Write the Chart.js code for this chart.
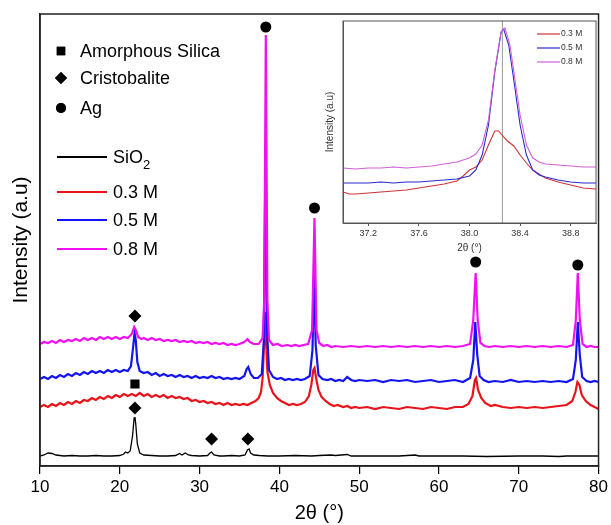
<!DOCTYPE html>
<html>
<head>
<meta charset="utf-8">
<script src="https://cdn.jsdelivr.net/npm/chart.js@4.4.1/dist/chart.umd.min.js"></script>
<style>
  html, body { margin: 0; padding: 0; background: #fff; }
  #wrap { position: relative; width: 611px; height: 525px; }
  #main { position: absolute; left: 0; top: 0; }
  #inset { position: absolute; left: 318px; top: 18px; }
</style>
</head>
<body>
<div id="wrap">
  <canvas id="main" width="611" height="525"></canvas>
  <canvas id="inset" width="280" height="242"></canvas>
</div>
<script>
// ---- data (2theta, intensity a.u.) ----
var sio2 = [[10,10],[10.5,11],[11,13],[11.5,12.5],[12,11],[13,10],[14,10.5],[15,10],[16,10],[17,10.5],[18,10],[19,10],[20,10.5],[20.5,12],[20.7,14],[21,13],[21.3,15],[21.6,30],[21.8,48],[21.9,49],[22,42],[22.2,22],[22.5,13],[23,11],[24,10.5],[25,10],[26,10],[27,10.5],[27.5,12.5],[27.8,11],[28.2,13],[28.6,11],[29,10.5],[30,10],[31,10.5],[31.3,13],[31.5,14],[31.8,11],[32.5,10],[33,10],[34,10.5],[35,10],[35.7,11],[36,16],[36.2,17],[36.4,13],[36.8,11],[37.5,10.5],[38.5,10],[40,10],[42,10.5],[44,10],[45,10.5],[46.5,11],[47,10.5],[48.5,11.5],[49,10],[52,10],[55,10],[57,11],[57.5,10],[60,10],[63,10],[66,9.5],[70,10],[73,10],[75,9.5],[76,10],[78,10],[80,10]];

var m03 = [[10,59],[10.5,61],[11,59],[11.5,62],[12,60],[12.5,63],[13,61],[13.5,64],[14,62],[14.5,65],[15,63],[15.5,66],[16,65],[16.5,68],[17,66],[17.5,69],[18,67],[18.5,70],[19,68],[19.5,71],[20,69],[20.5,72],[21,70],[21.5,72],[22,70],[22.5,73],[23,70],[23.5,72],[24,69],[24.5,71],[25,69],[25.5,71],[26,68],[26.5,70],[27,68],[27.5,69],[28,67],[28.5,68],[29,65],[29.5,66],[30,64],[30.5,65],[31,63],[31.5,64],[32,62],[32.5,63],[33,61],[33.5,63],[34,61],[34.5,62],[35,61],[35.5,62],[36,61],[36.5,63],[37,65],[37.4,68],[37.7,74],[37.9,88],[38.05,116],[38.2,154],[38.35,121],[38.5,94],[38.8,81],[39.2,73],[39.7,68],[40.2,65],[40.7,63],[41.2,61],[41.7,62],[42.2,61],[42.7,62],[43.2,64],[43.7,70],[44,81],[44.25,96],[44.4,98],[44.6,88],[44.9,76],[45.3,69],[45.8,65],[46.3,62],[46.8,60],[47.3,61],[48,59],[48.5,60],[49,58],[49.5,59],[50,58],[51,59],[52,57],[53,59],[54,58],[55,57],[56,59],[57,58],[58,57],[59,59],[60,58],[61,57],[62,59],[63,59],[63.7,62],[64.2,70],[64.5,86],[64.65,88],[64.9,76],[65.3,68],[65.8,63],[66.5,60],[67,61],[68,59],[69,58],[70,59],[71,58],[72,59],[73,58],[74,59],[75,60],[76,61],[76.7,65],[77.1,74],[77.35,84],[77.6,81],[77.9,71],[78.4,65],[79,61],[79.5,59],[80,57]];

var m05 = [[10,87],[10.5,89],[11,87],[11.5,90],[12,88],[12.5,91],[13,89],[13.5,92],[14,90],[14.5,93],[15,91],[15.5,94],[16,92],[16.5,95],[17,93],[17.5,95],[18,93],[18.5,96],[19,94],[19.5,96],[20,94],[20.5,96],[21,95],[21.4,100],[21.7,121],[21.85,133],[22,126],[22.2,104],[22.5,95],[23,93],[23.5,94],[24,91],[24.5,93],[25,90],[25.5,92],[26,90],[26.5,91],[27,89],[27.5,91],[28,89],[28.5,90],[29,88],[29.5,90],[30,88],[30.5,89],[31,88],[31.5,90],[32,88],[32.5,89],[33,87],[33.5,88],[34,87],[34.5,88],[35,87],[35.6,90],[35.9,97],[36.1,99],[36.4,92],[36.8,88],[37.3,88],[37.8,92],[38.05,126],[38.25,303],[38.45,136],[38.7,96],[39.2,89],[39.7,87],[40.2,88],[40.7,86],[41.2,87],[41.7,86],[42.2,87],[42.7,86],[43.2,87],[43.8,90],[44.15,116],[44.35,194],[44.55,121],[44.9,91],[45.4,87],[46,86],[46.5,87],[47,85],[47.5,86],[48,85],[48.5,89],[49,86],[49.5,85],[50,86],[51,85],[52,86],[53,84],[54,86],[55,85],[56,86],[57,84],[58,85],[59,86],[60,84],[61,85],[62,86],[63,84],[63.9,88],[64.3,106],[64.55,144],[64.8,111],[65.1,90],[65.6,86],[66.2,84],[67,85],[68,84],[69,86],[70,84],[71,85],[72,84],[73,85],[74,84],[75,85],[76,84],[76.8,87],[77.15,106],[77.4,144],[77.65,111],[77.95,89],[78.5,85],[79,84],[79.5,85],[80,84]];

var m08 = [[10,122],[10.5,124],[11,123],[11.5,125],[12,123],[12.5,126],[13,124],[13.5,126],[14,125],[14.5,127],[15,125],[15.5,128],[16,126],[16.5,128],[17,126],[17.5,129],[18,127],[18.5,129],[19,127],[19.5,129],[20,127],[20.5,129],[21,128],[21.5,132],[21.8,139],[22,136],[22.3,129],[22.7,127],[23,128],[23.5,126],[24,128],[24.5,126],[25,127],[25.5,125],[26,126],[26.5,125],[27,126],[27.5,124],[28,125],[28.5,124],[29,125],[29.5,123],[30,124],[30.5,123],[31,124],[31.5,122],[32,123],[32.5,122],[33,123],[33.5,121],[34,122],[34.5,121],[35,122],[35.6,124],[36,127],[36.3,124],[36.8,122],[37.4,122],[37.9,128],[38.1,166],[38.3,431],[38.5,166],[38.7,126],[39.2,121],[39.8,122],[40.3,120],[41,121],[41.5,120],[42,121],[42.5,120],[43,121],[43.6,122],[44.1,136],[44.4,248],[44.65,136],[45,123],[45.5,120],[46,121],[46.5,119],[47,120],[48,119],[49,120],[50,119],[51,120],[52,119],[53,120],[54,119],[55,120],[56,119],[57,120],[58,119],[59,120],[60,119],[61,120],[62,119],[63,120],[63.9,122],[64.3,146],[64.6,193],[64.85,146],[65.2,123],[65.7,120],[66.3,119],[67,120],[68,119],[69,120],[70,119],[71,120],[72,119],[73,120],[74,119],[75,120],[76,119],[76.8,121],[77.15,146],[77.4,193],[77.65,146],[78,122],[78.5,119],[79,120],[79.5,119],[80,119]];

// peak markers
var agPeaks = [[38.3,439],[44.4,258],[64.6,204],[77.4,201]];
var cristobalitePeaks = [[21.9,150],[21.9,58],[31.5,27],[36.05,27]];
var silicaPeaks = [[21.9,82]];

var markerNames = ['Amorphous Silica', 'Cristobalite', 'Ag'];
var seriesNames = ['SiO2', '0.3 M', '0.5 M', '0.8 M'];
var seriesColors = ['#000000', '#e8141b', '#1414f0', '#f010f0'];
var xTicks = [10, 20, 30, 40, 50, 60, 70, 80];

// inset (zoom of the Ag(111) reflection)
var inset03 = [[37,31],[37.05,29],[37.1,29],[37.2,30],[37.3,31],[37.4,32],[37.5,33],[37.6,35],[37.7,37],[37.8,39],[37.9,42],[37.95,47],[38,53],[38.05,56],[38.1,63],[38.15,78],[38.2,92],[38.23,92],[38.27,86],[38.3,82],[38.35,77],[38.4,68],[38.45,60],[38.5,53],[38.55,49],[38.6,45],[38.7,41],[38.8,38],[38.9,35],[39,34]];
var inset05 = [[37,40],[37.1,40],[37.2,40],[37.3,41],[37.4,40],[37.5,41],[37.6,41],[37.7,42],[37.8,43],[37.9,44],[38,47],[38.05,53],[38.1,68],[38.15,98],[38.2,151],[38.25,191],[38.27,194],[38.31,178],[38.35,143],[38.4,98],[38.45,68],[38.5,53],[38.55,48],[38.6,46],[38.7,43],[38.8,41],[38.9,40],[39,40]];
var inset08 = [[37,55],[37.1,54],[37.2,55],[37.3,55],[37.4,56],[37.5,55],[37.6,56],[37.7,57],[37.8,59],[37.9,61],[38,65],[38.05,69],[38.1,78],[38.15,103],[38.2,153],[38.25,191],[38.28,195],[38.32,178],[38.36,143],[38.4,108],[38.45,78],[38.5,65],[38.55,61],[38.6,59],[38.7,58],[38.8,57],[38.9,56],[39,56]];
var insetRef = [[38.26,0],[38.26,202]];
var insetNames = ['0.3 M', '0.5 M', '0.8 M'];
var insetColors = ['#cc3535', '#2a2ad0', '#d060d8'];
var insetTicks = [37.2, 37.6, 38.0, 38.4, 38.8];

var FONT = '"Liberation Sans", Arial, sans-serif';

function frame(color, width) {
  return {
    id: 'frame',
    afterDraw: function (chart) {
      var a = chart.chartArea, ctx = chart.ctx;
      ctx.save();
      ctx.strokeStyle = color;
      ctx.lineWidth = width;
      ctx.strokeRect(a.left, a.top, a.right - a.left, a.bottom - a.top);
      ctx.restore();
    }
  };
}

var mainLegend = {
  id: 'mainLegend',
  afterDraw: function (chart) {
    var ctx = chart.ctx, a = chart.chartArea;
    ctx.save();
    ctx.fillStyle = '#000';
    ctx.textBaseline = 'middle';
    ctx.font = '18px ' + FONT;
    var rows = [37, 64, 94];
    var styles = ['rect', 'rectRot', 'circle'];
    var radii = [6, 6, 5];
    for (var i = 0; i < markerNames.length; i++) {
      Chart.helpers.drawPoint(ctx, { pointStyle: styles[i], radius: radii[i], borderWidth: 0 }, a.left + 21, a.top + rows[i]);
      ctx.fill();
      ctx.fillText(markerNames[i], a.left + 40, a.top + rows[i] + 1);
    }
    var lrows = [143, 178, 206, 235];
    for (var j = 0; j < seriesNames.length; j++) {
      var y = a.top + lrows[j];
      ctx.strokeStyle = seriesColors[j];
      ctx.lineWidth = 2;
      ctx.beginPath();
      ctx.moveTo(a.left + 17, y);
      ctx.lineTo(a.left + 67, y);
      ctx.stroke();
      var label = seriesNames[j];
      if (label === 'SiO2') {
        ctx.fillText('SiO', a.left + 73, y + 1);
        var w = ctx.measureText('SiO').width;
        ctx.font = '13px ' + FONT;
        ctx.fillText('2', a.left + 73 + w, y + 8);
        ctx.font = '18px ' + FONT;
      } else {
        ctx.fillText(label, a.left + 73, y + 1);
      }
    }
    ctx.restore();
  }
};

function series(data, color, width) {
  return { type: 'line', data: data, borderColor: color, borderWidth: width, pointRadius: 0, tension: 0, fill: false };
}
function marks(data, style, radius) {
  return { type: 'scatter', data: data, pointStyle: style, pointRadius: radius, pointBackgroundColor: '#000', pointBorderWidth: 0, showLine: false };
}

new Chart(document.getElementById('main'), {
  data: {
    datasets: [
      marks(agPeaks, 'circle', 5.5),
      marks(cristobalitePeaks, 'rectRot', 6.5),
      marks(silicaPeaks, 'rect', 6.5),
      series(m08, seriesColors[3], 2.2),
      series(m05, seriesColors[2], 2.2),
      series(m03, seriesColors[1], 2.2),
      series(sio2, seriesColors[0], 1.3)
    ]
  },
  options: {
    responsive: false,
    animation: false,
    devicePixelRatio: 1,
    layout: { padding: { left: 0, right: 12, top: 14, bottom: 0 } },
    plugins: { legend: { display: false }, tooltip: { enabled: false } },
    scales: {
      x: {
        type: 'linear', min: 10, max: 80,
        afterBuildTicks: function (s) { s.ticks = xTicks.map(function (v) { return { value: v }; }); },
        afterFit: function (s) { s.height = 59; },
        ticks: { color: '#000', font: { family: FONT, size: 17 }, padding: 3, maxRotation: 0 },
        grid: { drawOnChartArea: false, drawTicks: true, tickLength: 8, color: '#000', lineWidth: 1.2 },
        border: { display: true, color: '#222', width: 1.5 },
        title: { display: true, text: '2θ (°)', color: '#000', font: { family: FONT, size: 20 }, padding: { top: 0, bottom: 0 } }
      },
      y: {
        type: 'linear', min: 0, max: 452,
        afterFit: function (s) { s.width = 40; },
        ticks: { display: false },
        grid: { display: false },
        border: { display: true, color: '#222', width: 1.5 },
        title: { display: true, text: 'Intensity (a.u)', color: '#000', font: { family: FONT, size: 21 }, padding: { top: 9, bottom: 0 } }
      }
    }
  },
  plugins: [frame('#222', 1.5), mainLegend]
});

var insetLegend = {
  id: 'insetLegend',
  afterDraw: function (chart) {
    var ctx = chart.ctx, a = chart.chartArea;
    ctx.save();
    ctx.font = '8.5px ' + FONT;
    ctx.fillStyle = '#333';
    ctx.textBaseline = 'middle';
    var rows = [13, 27, 41];
    for (var i = 0; i < insetNames.length; i++) {
      var y = a.top + rows[i];
      ctx.strokeStyle = insetColors[i];
      ctx.lineWidth = 1.2;
      ctx.beginPath();
      ctx.moveTo(a.left + 194, y);
      ctx.lineTo(a.left + 217, y);
      ctx.stroke();
      ctx.fillText(insetNames[i], a.left + 218, y);
    }
    ctx.restore();
  }
};

new Chart(document.getElementById('inset'), {
  data: {
    datasets: [
      series(inset08, insetColors[2], 1.1),
      series(inset05, insetColors[1], 1.1),
      series(inset03, insetColors[0], 1.1),
      series(insetRef, '#999999', 1)
    ]
  },
  options: {
    responsive: false,
    animation: false,
    devicePixelRatio: 1,
    layout: { padding: { left: 0, right: 2, top: 3, bottom: 0 } },
    plugins: { legend: { display: false }, tooltip: { enabled: false } },
    scales: {
      x: {
        type: 'linear', min: 37, max: 39,
        afterBuildTicks: function (s) { s.ticks = insetTicks.map(function (v) { return { value: v }; }); },
        afterFit: function (s) { s.height = 37; },
        ticks: { color: '#333', font: { family: FONT, size: 9 }, padding: 2, maxRotation: 0,
                 callback: function (v) { return Number(v).toFixed(1); } },
        grid: { drawOnChartArea: false, drawTicks: true, tickLength: 3, color: '#555' },
        border: { display: true, color: '#555', width: 1 },
        title: { display: true, text: '2θ (°)', color: '#333', font: { family: FONT, size: 10 }, padding: { top: 0, bottom: 6 } }
      },
      y: {
        type: 'linear', min: 0, max: 202,
        afterFit: function (s) { s.width = 25; },
        ticks: { display: false },
        grid: { display: false },
        border: { display: true, color: '#555', width: 1 },
        title: { display: true, text: 'Intensity (a.u)', color: '#333', font: { family: FONT, size: 10 }, padding: { top: 6, bottom: 0 } }
      }
    }
  },
  plugins: [frame('#555', 1), insetLegend]
});
</script>
</body>
</html>
